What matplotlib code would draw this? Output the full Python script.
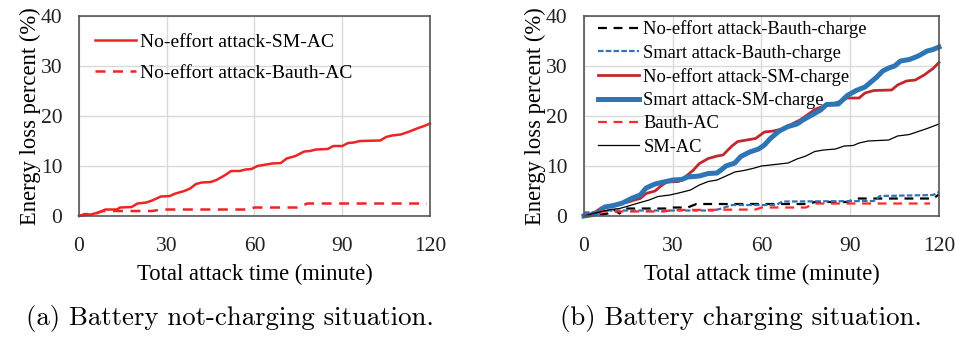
import matplotlib
matplotlib.use("Agg")
import matplotlib.pyplot as plt

# Données (minutes, % de perte d'énergie)
# (a) batterie non en charge
t_sm_ac_a = [0, 2, 4, 6, 8, 9, 13, 14, 18, 20, 23, 25, 28, 31, 33, 36, 38, 40, 42, 45, 47, 50, 52, 55, 57, 59,
             61, 63, 66, 69, 71, 74, 77, 79, 81, 85, 87, 90, 92, 94, 96, 103, 105, 107, 110, 113, 116, 118, 120]
v_sm_ac_a = [0, 0.2, 0.3, 0.6, 1.0, 1.3, 1.3, 1.7, 1.8, 2.5, 2.7, 3.1, 3.9, 4.0, 4.5, 5.0, 5.5, 6.4, 6.7, 6.8, 7.2,
             8.2, 9.0, 9.0, 9.3, 9.4, 10.0, 10.2, 10.5, 10.6, 11.5, 12.0, 12.9, 13.0, 13.3, 13.4, 14.0, 14.0, 14.6,
             14.7, 15.0, 15.1, 15.8, 16.1, 16.3, 16.9, 17.6, 18.0, 18.5]
t_bauth_ac_a = [0, 2, 5, 8, 25, 28, 58, 60, 75, 78, 119]
v_bauth_ac_a = [0, 0.4, 0.3, 1.0, 1.0, 1.3, 1.3, 1.7, 1.7, 2.5, 2.5]

# (b) batterie en charge
t_ne_bauth = [0, 6, 8, 10, 12, 14, 28, 30, 35, 38, 76, 78, 89, 92, 118, 120]
v_ne_bauth = [0, 0.3, 0.5, 1.3, 0.5, 1.5, 1.5, 1.7, 1.7, 2.4, 2.4, 2.8, 2.8, 3.5, 3.5, 4.3]
t_sa_bauth = [0, 5, 7, 44, 47, 50, 65, 67, 98, 100, 118, 120]
v_sa_bauth = [0.7, 0.8, 1.1, 1.1, 1.6, 2.2, 2.2, 2.9, 3.0, 4.0, 4.2, 4.8]
t_ne_sm = [0, 3, 6, 9, 12, 15, 17, 19, 21, 24, 26, 28, 32, 35, 37, 39, 42, 45, 47, 50, 52, 55, 58, 61, 64, 67,
           70, 73, 75, 78, 81, 84, 87, 89, 93, 95, 98, 104, 106, 109, 112, 115, 118, 120]
v_ne_sm = [0, 0.5, 1.7, 2.0, 2.5, 2.8, 3.2, 3.5, 4.5, 5.0, 6.0, 6.8, 6.9, 8.2, 9.2, 10.5, 11.5, 12.0, 12.2, 14.0,
           14.9, 15.2, 15.5, 16.8, 17.0, 17.4, 18.3, 19.2, 20.0, 21.3, 22.0, 22.4, 23.0, 23.6, 23.6, 24.6, 25.1,
           25.2, 26.2, 27.0, 27.2, 28.2, 29.5, 30.7]
t_sa_sm = [0, 3, 5, 7, 10, 13, 16, 19, 21, 24, 27, 30, 33, 35, 39, 42, 45, 48, 51, 53, 56, 59, 61, 63, 66, 69,
           72, 74, 77, 80, 82, 86, 89, 92, 95, 97, 99, 101, 103, 105, 107, 110, 113, 116, 118, 120]
v_sa_sm = [0, 0.3, 0.8, 1.8, 2.1, 2.6, 3.5, 4.2, 5.6, 6.4, 6.8, 7.2, 7.3, 7.8, 8.0, 8.5, 8.6, 10.0, 10.6, 11.9,
           12.8, 13.4, 14.2, 15.5, 17.0, 17.9, 18.4, 19.2, 20.2, 21.2, 22.3, 22.4, 24.1, 25.1, 25.8, 26.8, 27.8,
           29.0, 29.6, 30.0, 31.0, 31.3, 32.0, 33.0, 33.3, 33.8]
t_bauth_ac_b = [0, 3, 6, 27, 30, 58, 60, 75, 78, 117]
v_bauth_ac_b = [0, 0.4, 0.9, 0.9, 1.2, 1.3, 1.7, 1.7, 2.5, 2.5]
t_sm_ac_b = [0, 3, 6, 9, 12, 15, 19, 22, 25, 29, 32, 36, 39, 42, 45, 48, 51, 54, 57, 60, 63, 66, 69, 72, 75, 78,
             81, 85, 88, 91, 93, 96, 103, 106, 110, 113, 116, 120]
v_sm_ac_b = [0, 0.5, 0.9, 1.3, 1.5, 2.0, 2.7, 3.2, 3.9, 4.2, 4.6, 5.2, 6.2, 6.9, 7.2, 8.0, 8.8, 9.1, 9.5, 10.0,
             10.2, 10.4, 10.6, 11.4, 12.0, 12.9, 13.2, 13.4, 14.0, 14.1, 14.6, 15.0, 15.2, 16.0, 16.3, 16.9, 17.5,
             18.4]

xticks = [0, 30, 60, 90, 120]
yticks = [0, 10, 20, 30, 40]

plt.rcParams["font.family"] = ["Liberation Serif", "DejaVu Serif"]

fig = plt.figure(figsize=(9.55, 3.37), dpi=100)
ax1 = fig.add_axes([0.0827, 0.359, 0.3675, 0.5935])
ax2 = fig.add_axes([0.6115, 0.359, 0.3717, 0.5935])

red = "#EE2424"
dark_red = "#C0282E"
blue = "#2E75B6"

ax1.plot(t_sm_ac_a, v_sm_ac_a, color=red, lw=1.8, label="No-effort attack-SM-AC", clip_on=False)
ax1.plot(t_bauth_ac_a, v_bauth_ac_a, color=red, lw=1.8, dashes=(4, 3), label="No-effort attack-Bauth-AC", clip_on=False)

ax2.plot(t_ne_bauth, v_ne_bauth, color="black", lw=1.6, dashes=(4, 3), label="No-effort attack-Bauth-charge", clip_on=False)
ax2.plot(t_sa_bauth, v_sa_bauth, color=blue, lw=1.6, dashes=(2.5, 1), label="Smart attack-Bauth-charge", clip_on=False)
ax2.plot(t_ne_sm, v_ne_sm, color=dark_red, lw=2.0, label="No-effort attack-SM-charge", clip_on=False)
ax2.plot(t_sa_sm, v_sa_sm, color=blue, lw=3.6, label="Smart attack-SM-charge", clip_on=False)
ax2.plot(t_bauth_ac_b, v_bauth_ac_b, color="#FF2A2A", lw=1.6, dashes=(4, 3), label="Bauth-AC", clip_on=False)
ax2.plot(t_sm_ac_b, v_sm_ac_b, color="black", lw=0.9, label="SM-AC", clip_on=False)

for ax in (ax1, ax2):
    ax.set_xlim(0, 120)
    ax.set_ylim(0, 40)
    ax.set_xticks(xticks)
    ax.set_yticks(yticks)
    ax.grid(True, color="#D9D9D9", lw=1.0)
    ax.set_axisbelow(True)
    ax.tick_params(length=0, labelsize=15.5, colors="#222222")
    ax.tick_params(axis="x", pad=15)
    ax.tick_params(axis="y", pad=12)
    for s in ax.spines.values():
        s.set_color("#555555")
        s.set_linewidth(1.2)
    ax.set_xlabel("Total attack time (minute)", fontsize=16.3, labelpad=6)
    ax.set_ylabel("Energy loss percent (%)", fontsize=16.3, labelpad=0)

ax1.legend(loc="upper left", bbox_to_anchor=(0.045, 0.915), frameon=False, fontsize=14,
           handlelength=2.1, handletextpad=0.25, labelspacing=0.72, borderpad=0, borderaxespad=0)
ax2.legend(loc="upper left", bbox_to_anchor=(0.04, 0.978), frameon=False, fontsize=13.3,
           handlelength=2.2, handletextpad=0.25, labelspacing=0.34, borderpad=0, borderaxespad=0)

fig.text(0.241, 0.056, "(a) Battery not-charging situation.", ha="center", va="center",
         fontsize=19.3, family=["cmr10", "DejaVu Serif"])
fig.text(0.776, 0.056, "(b) Battery charging situation.", ha="center", va="center",
         fontsize=19.3, family=["cmr10", "DejaVu Serif"])

fig.savefig("out.png", dpi=100)
